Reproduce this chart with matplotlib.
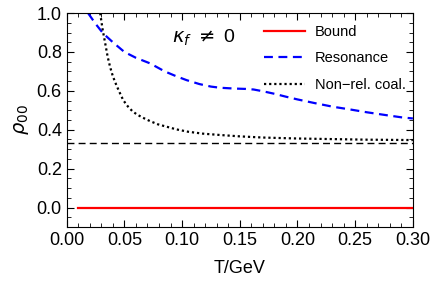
import matplotlib.pyplot as plt
from matplotlib.ticker import MultipleLocator

plt.rcParams['font.family'] = ['Liberation Sans', 'DejaVu Sans']
plt.rcParams['mathtext.fontset'] = 'dejavusans'

# Bound state: rho00 = 0
t_bound = [0.01, 0.30]
rho_bound = [0.0, 0.0]

# Resonance (blue dashed)
t_res = [0.0185, 0.025, 0.0315, 0.04, 0.05, 0.06, 0.072, 0.085, 0.095, 0.104,
         0.115, 0.125, 0.133, 0.145, 0.155, 0.162, 0.17, 0.18, 0.19, 0.20,
         0.215, 0.231, 0.245, 0.26, 0.277, 0.29, 0.30]
rho_res = [1.0, 0.945, 0.896, 0.85, 0.80, 0.77, 0.742, 0.70, 0.675, 0.655,
           0.635, 0.622, 0.616, 0.612, 0.61, 0.607, 0.598, 0.585, 0.57, 0.556,
           0.537, 0.518, 0.505, 0.49, 0.475, 0.464, 0.458]

# Non-relativistic coalescence (black dotted)
t_coal = [0.029, 0.031, 0.0335, 0.0355, 0.0376, 0.040, 0.043, 0.046, 0.049,
          0.053, 0.057, 0.061, 0.066, 0.072, 0.079, 0.087, 0.095, 0.105,
          0.118, 0.133, 0.15, 0.17, 0.20, 0.23, 0.26, 0.30]
rho_coal = [1.0, 0.92, 0.84, 0.775, 0.723, 0.675, 0.63, 0.59, 0.552,
            0.52, 0.495, 0.478, 0.462, 0.445, 0.428, 0.415, 0.402, 0.39,
            0.38, 0.373, 0.366, 0.36, 0.355, 0.352, 0.349, 0.347]

rho_unpol = 1 / 3

fig = plt.figure(figsize=(4.36, 2.91), dpi=100)
ax = fig.add_axes([0.153, 0.22, 0.794, 0.735])

ax.axhline(rho_unpol, color='black', lw=1.0, ls=(0, (5, 3)))
ax.plot(t_bound, rho_bound, color='red', lw=1.6, label='Bound')
ax.plot(t_res, rho_res, color='blue', lw=1.6, ls=(0, (4, 2.5)), label='Resonance')
ax.plot(t_coal, rho_coal, color='black', lw=1.6, ls=(0, (1, 1.3)), label='Non\u2212rel. coal.')

ax.text(0.119, 0.875, r'$\kappa_f$ $\neq$ 0', ha='center', va='center', fontsize=14)

ax.set_xlim(0, 0.30)
ax.set_ylim(-0.1, 1.0)
ax.xaxis.set_major_locator(MultipleLocator(0.05))
ax.xaxis.set_minor_locator(MultipleLocator(0.01))
ax.yaxis.set_major_locator(MultipleLocator(0.2))
ax.yaxis.set_minor_locator(MultipleLocator(0.05))
ax.xaxis.set_major_formatter(plt.FormatStrFormatter('%.2f'))
ax.yaxis.set_major_formatter(plt.FormatStrFormatter('%.1f'))
ax.tick_params(which='both', direction='in', top=True, right=True, labelsize=13)
ax.tick_params(which='major', length=5, width=0.8)
ax.tick_params(which='minor', length=3, width=0.6)

ax.set_xlabel('T/GeV', fontsize=13, labelpad=8)
ax.set_ylabel(r'$\rho_{00}$', fontsize=14, labelpad=4)

ax.legend(loc='upper right', frameon=False, fontsize=10.5, handlelength=2.8,
          handletextpad=0.7, labelspacing=0.85, borderaxespad=0.2,
          bbox_to_anchor=(1.005, 0.985))

fig.savefig('out.png', dpi=100)
